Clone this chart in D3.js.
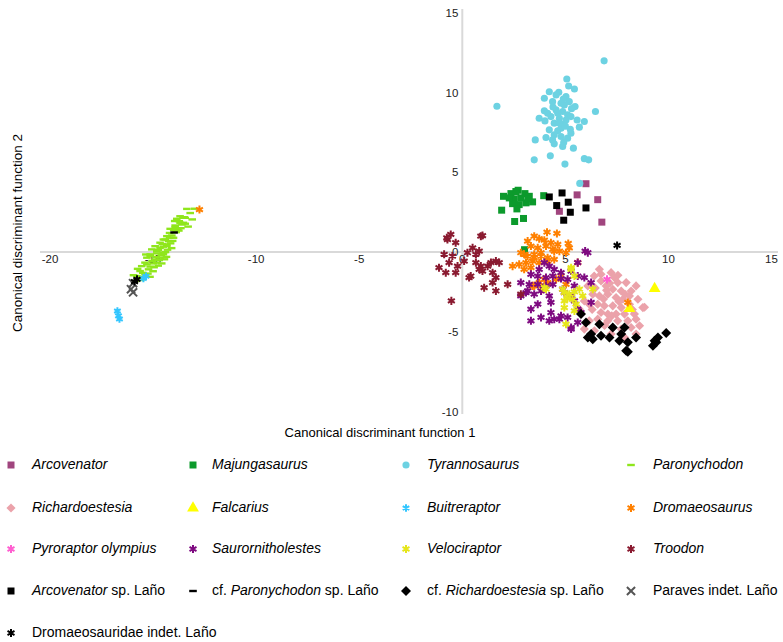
<!DOCTYPE html>
<html>
<head>
<meta charset="utf-8">
<script src="https://cdn.jsdelivr.net/npm/d3@7"></script>
<style>
  html, body { margin: 0; padding: 0; background: #ffffff; }
  svg { display: block; font-family: "Liberation Sans", Arial, sans-serif; }
</style>
</head>
<body>
<svg id="chart" width="783" height="642"></svg>
<script>
// ---------------- DATA ----------------
const xTicks = [-20, -15, -10, -5, 0, 5, 10, 15];
const yTicks = [-10, -5, 0, 5, 10, 15];
const xTitle = "Canonical discriminant function 1";
const yTitle = "Canonical discriminant function 2";

const arcovenator = [[6.0,4.29],[5.57,3.59],[6.57,3.29],[4.71,2.56],[6.77,1.88]];

const majungasaurus = [[2.0,3.5],[2.36,3.67],[2.71,3.88],[3.04,3.67],[3.25,3.5],[2.52,3.34],[2.84,3.4],
  [2.44,3.04],[2.76,2.98],[3.09,3.09],[3.41,3.15],[2.65,2.71],[1.91,2.63],[3.95,3.54],[2.97,2.11],
  [2.54,1.92],[2.28,3.4],[3.18,3.35],[2.6,3.8],[3.02,0.15]];

const tyrannosaurus = [[6.88,12.0],[1.68,9.15],[5.07,10.86],[5.16,10.42],[5.44,10.23],[4.22,10.06],[4.68,10.03],
  [3.98,9.65],[5.03,9.75],[4.38,9.44],[4.79,9.34],[5.19,9.44],[5.47,9.13],[6.46,8.82],[3.98,8.86],[4.55,8.92],
  [4.87,8.82],[5.11,8.61],[3.73,8.40],[4.30,8.50],[4.71,8.40],[5.27,8.50],[5.57,8.29],[5.92,8.19],[4.01,8.23],
  [4.46,8.09],[4.87,8.02],[5.68,7.84],[4.22,7.67],[4.63,7.61],[5.24,7.71],[3.54,7.04],[4.06,7.19],[4.38,7.04],
  [5.11,7.15],[4.46,6.79],[4.92,6.88],[4.87,6.63],[5.39,6.52],[4.27,6.04],[3.49,5.79],[4.98,5.52],[5.92,5.86],
  [6.13,5.79],[4.55,9.86],[4.95,9.23],[4.63,8.71],[4.14,8.71],[5.03,8.29],[4.79,7.77],[4.46,7.36],[5.27,7.46],
  [4.79,7.25],[5.70,4.31],[4.9,9.6],[4.4,9.1],[5.3,9.0],[4.7,8.1],[5.0,7.9]];

const paronychodon = [[-13.69,2.25],[-13.49,2.19],[-13.73,1.94],[-13.53,1.84],[-13.93,1.67],[-13.60,1.73],
  [-13.88,1.25],[-14.33,1.0],[-14.09,1.04],[-14.50,0.79],[-14.25,0.69],[-14.66,0.59],[-14.33,0.48],
  [-14.90,0.37],[-14.50,0.34],[-15.06,0.17],[-14.74,0.13],[-15.14,-0.14],[-14.82,-0.08],[-14.50,-0.14],
  [-15.30,-0.35],[-14.90,-0.46],[-15.39,-0.66],[-14.98,-0.71],[-15.55,-0.88],[-15.14,-0.91],
  [-13.44,2.15],[-13.36,2.71],[-12.98,2.72],[-13.85,2.09],[-13.55,2.15],[-13.69,1.84],[-13.44,1.78],
  [-14.17,1.46],[-13.93,1.56],[-14.41,0.79],[-14.01,0.9],[-14.66,0.27],[-14.33,0.38],[-14.82,0.06],
  [-14.50,-0.04],[-15.14,-0.25],[-14.66,-0.35],[-15.30,-0.77],[-14.82,-0.66],[-15.63,-1.19],[-15.22,-1.08],
  [-15.79,-1.5],[-15.39,-1.39],[-15.87,-1.81],[-14.58,-0.71],[-15.5,-1.3],[-15.05,-0.55],[-14.2,1.2],
  [-14.0,1.4],[-15.7,-1.6],[-13.8,1.45],
  [-13.2,2.45],[-13.1,2.05],[-13.3,1.6],[-13.75,1.35],[-14.15,0.55],[-14.05,0.7],[-14.3,0.15],[-14.4,0.0],
  [-14.6,-0.2],[-14.35,-0.3],[-14.7,-0.5],[-14.95,-0.95],[-14.75,-0.85],[-15.0,-1.2],[-15.25,-1.35],
  [-15.45,-1.55],[-15.6,-1.75],[-15.15,-1.55],[-14.85,-0.3],[-14.2,0.9],[-13.65,1.5],[-14.55,0.5],
  [-15.35,-0.15],[-15.75,-1.05],[-15.95,-1.45],[-14.1,0.25],[-13.95,1.95],[-14.45,-0.45]];

const richardoestesia = [[6.65,-1.08],[7.22,-1.29],[7.54,-1.91],[7.95,-1.91],[6.73,-1.81],[6.98,-2.12],
  [7.30,-2.33],[7.71,-2.44],[8.19,-2.44],[8.43,-2.12],[6.33,-2.64],[6.65,-2.75],[7.06,-2.64],[7.46,-2.85],
  [7.79,-2.96],[8.11,-2.75],[8.52,-2.96],[6.16,-3.27],[6.57,-3.27],[6.89,-3.37],[7.30,-3.37],[7.71,-3.48],
  [8.11,-3.27],[8.76,-3.48],[6.73,-3.79],[7.06,-3.89],[7.46,-3.89],[7.87,-3.89],[8.35,-3.89],[6.16,-4.31],
  [6.57,-4.21],[7.06,-4.31],[7.54,-4.31],[8.03,-4.31],[8.43,-4.21],[7.30,-4.73],[7.71,-4.83],[8.19,-4.73],
  [8.6,-4.62],[7.22,-5.14],[7.87,-5.35],[8.43,-5.14],[8.84,-3.46],[5.92,-3.06],[5.68,-3.58],[6.41,-4.94],
  [6.73,-1.39],[7.38,-1.6],[6.09,-2.12],[5.92,-4.83],[6.4,-1.5],[7.0,-2.4],[6.3,-3.6],[7.6,-3.1],
  [6.85,-2.95],[7.15,-1.95],[7.9,-2.65],[6.45,-2.25],[7.25,-4.0],[6.9,-4.6],[8.25,-3.6],[7.55,-1.45]];

const falcarius = [[9.33,-2.29],[8.11,-3.54]];

const buitreraptor = [[-15.47,-1.66],[-15.34,-1.52],[-16.73,-3.7],[-16.68,-4.0],[-16.63,-4.2]];

const dromaeosaurus = [[4.11,1.25],[4.59,1.17],[3.49,1.0],[3.73,0.84],[3.17,0.69],[3.98,0.75],[4.30,0.59],
  [4.63,0.48],[5.14,0.54],[3.33,0.38],[3.66,0.27],[4.06,0.38],[4.39,0.17],[4.71,0.06],[5.03,-0.04],
  [5.19,0.27],[2.84,-0.04],[3.17,-0.25],[3.49,-0.14],[3.82,-0.25],[4.14,-0.35],[4.46,-0.46],[2.44,-0.88],
  [2.76,-0.77],[3.09,-0.66],[3.41,-0.56],[3.73,-0.66],[3.0,-1.08],[3.33,-0.98],[3.49,-2.12],[3.98,-1.71],
  [4.55,-1.71],[4.79,-1.5],[3.90,-2.33],[5.03,-2.02],[3.0,-0.14],[3.49,-0.35],[3.82,-0.04],[4.14,-0.56],
  [4.46,0.06],[5.6,-0.66],[3.73,-1.91],[4.14,-1.91],[3.41,-2.12],[-12.75,2.67],[8.03,-3.16]];

const pyroraptor = [[7.02,-1.71]];

const saurornitholestes = [[5.96,0.06],[6.09,-0.04],[5.6,-0.66],[3.98,-0.66],[4.22,-0.88],[3.73,-1.08],
  [4.46,-1.08],[4.79,-1.29],[5.28,-1.19],[3.33,-1.39],[3.66,-1.5],[4.06,-1.6],[4.39,-1.5],[4.79,-1.66],
  [5.11,-1.71],[5.6,-1.5],[5.92,-1.6],[2.84,-1.91],[3.25,-2.02],[3.66,-2.02],[4.06,-2.12],[4.39,-2.02],
  [4.87,-2.33],[5.44,-2.12],[6.25,-1.91],[3.09,-2.54],[3.49,-2.64],[3.82,-2.44],[4.22,-2.75],[4.95,-2.54],
  [5.28,-2.75],[3.66,-3.27],[4.30,-3.16],[5.44,-3.06],[5.6,-3.58],[3.33,-4.31],[3.82,-4.1],[4.22,-4.31],
  [4.71,-4.21],[5.11,-4.1],[5.28,-4.73],[5.6,-4.41],[3.33,-3.58],[4.30,-3.79],[4.46,-4.21],[4.79,-4.0],
  [5.28,-4.83],[2.84,-2.75],[3.17,-2.44],[5.76,-3.79],[6.25,-3.16]];

const velociraptor = [[5.28,-1.08],[4.06,-2.33],[4.87,-2.33],[5.28,-0.98],[3.98,-2.23],[4.95,-2.54],
  [5.19,-2.64],[5.44,-2.5],[5.68,-2.33],[5.84,-2.75],[5.35,-2.96],[4.95,-3.06],[6.33,-2.33],[5.44,-3.69],
  [5.03,-4.52],[4.95,-3.48],[5.52,-3.27],[5.44,-1.5],[5.1,-2.9]];

const troodon = [[-0.72,0.79],[-0.56,1.11],[-0.32,0.59],[-0.88,-0.14],[-0.48,-0.25],[-0.64,-0.66],
  [-1.13,-0.98],[-0.8,-1.29],[-0.32,-1.29],[-0.23,-0.88],[0.09,-0.56],[0.25,-0.04],[0.5,0.27],[0.66,-0.14],
  [0.82,0.06],[0.66,-0.66],[0.9,-0.88],[0.98,-1.19],[0.9,1.0],[0.41,-1.5],[0.33,-1.6],[0.82,-1.08],
  [1.23,-0.88],[1.39,-0.66],[1.63,-0.56],[1.79,-0.66],[1.47,-1.29],[1.63,-1.6],[1.47,-1.91],[1.06,-2.23],
  [1.63,-2.44],[2.2,-2.02],[-0.53,-3.06],[2.84,-2.64],[-0.75,0.9],[0.98,1.04]];

const arcovenatorLano = [[4.22,3.46],[4.84,3.71],[4.58,2.92],[5.14,3.13],[5.24,2.5],[6.0,2.77],[4.92,2.0]];

const paronychodonLano = [[-13.98,1.23]];

const richardoestesiaLano = [[6.0,-4.41],[5.76,-3.89],[6.09,-5.35],[6.33,-5.46],[6.25,-5.14],[6.73,-5.25],
  [7.14,-5.35],[7.87,-4.73],[7.71,-5.14],[7.62,-5.56],[8.03,-5.66],[7.95,-6.19],[8.43,-5.35],[9.33,-5.56],
  [9.49,-5.35],[9.25,-5.87],[9.41,-5.66],[9.89,-5.08],[6.65,-4.52],[8.03,-6.25],[7.30,-4.73]];

const paravesLano = [[-15.97,-1.95],[-16.07,-2.33],[-15.97,-2.52]];

const dromaeosauridaeLano = [[7.51,0.42],[-15.78,-1.71],[-15.9,-1.85]];

// ---------------- SYMBOLS ----------------
const dash = { draw(ctx, size) { ctx.rect(-3.8, -1.2, 7.6, 2.4); } };
const diamond = { draw(ctx, size) {
  const r = Math.sqrt(size / 2);
  ctx.moveTo(0, -r); ctx.lineTo(r, 0); ctx.lineTo(0, r); ctx.lineTo(-r, 0); ctx.closePath();
} };

const series = [
  { name: [["Arcovenator", true]], data: arcovenator, type: d3.symbolSquare, size: 49, fill: "#a0457e", stroke: null, col: 0, row: 0 },
  { name: [["Majungasaurus", true]], data: majungasaurus, type: d3.symbolSquare, size: 49, fill: "#0c9a2c", stroke: null, col: 1, row: 0 },
  { name: [["Tyrannosaurus", true]], data: tyrannosaurus, type: d3.symbolCircle, size: 40, fill: "#6dd2e2", stroke: null, col: 2, row: 0 },
  { name: [["Paronychodon", true]], data: paronychodon, type: dash, size: 1, fill: "#8fe61c", stroke: null, col: 3, row: 0 },
  { name: [["Richardoestesia", true]], data: richardoestesia, type: diamond, size: 42, fill: "#eba2aa", stroke: null, col: 0, row: 1 },
  { name: [["Falcarius", true]], data: falcarius, type: d3.symbolTriangle, size: 60, fill: "#ffff00", stroke: null, col: 1, row: 1 },
  { name: [["Buitreraptor", true]], data: buitreraptor, type: d3.symbolAsterisk, size: 40, fill: "none", stroke: "#33c6ff", col: 2, row: 1 },
  { name: [["Dromaeosaurus", true]], data: dromaeosaurus, type: d3.symbolAsterisk, size: 45, fill: "none", stroke: "#ff8000", col: 3, row: 1 },
  { name: [["Pyroraptor olympius", true]], data: pyroraptor, type: d3.symbolAsterisk, size: 45, fill: "none", stroke: "#ff5fd0", col: 0, row: 2 },
  { name: [["Saurornitholestes", true]], data: saurornitholestes, type: d3.symbolAsterisk, size: 45, fill: "none", stroke: "#7e0a80", col: 1, row: 2 },
  { name: [["Velociraptor", true]], data: velociraptor, type: d3.symbolAsterisk, size: 45, fill: "none", stroke: "#e6e61a", col: 2, row: 2 },
  { name: [["Troodon", true]], data: troodon, type: d3.symbolAsterisk, size: 45, fill: "none", stroke: "#8a1a30", col: 3, row: 2 },
  { name: [["Arcovenator", true], [" sp. Laño", false]], data: arcovenatorLano, type: d3.symbolSquare, size: 49, fill: "#000000", stroke: null, col: 0, row: 3 },
  { name: [["cf. ", false], ["Paronychodon", true], [" sp. Laño", false]], data: paronychodonLano, type: dash, size: 1, fill: "#000000", stroke: null, col: 1, row: 3 },
  { name: [["cf. ", false], ["Richardoestesia", true], [" sp. Laño", false]], data: richardoestesiaLano, type: diamond, size: 50, fill: "#000000", stroke: null, col: 2, row: 3 },
  { name: [["Paraves indet. Laño", false]], data: paravesLano, type: d3.symbolTimes || d3.symbolX, size: 45, fill: "none", stroke: "#555555", col: 3, row: 3 },
  { name: [["Dromaeosauridae indet. Laño", false]], data: dromaeosauridaeLano, type: d3.symbolAsterisk, size: 45, fill: "none", stroke: "#000000", col: 0, row: 4 }
];

// ---------------- SCALES ----------------
const svg = d3.select("#chart");
const x = d3.scaleLinear().domain([-20, 15]).range([50, 771.5]);
const y = d3.scaleLinear().domain([-10, 15]).range([411.5, 13]);

// axis lines
svg.append("line").attr("x1", 40).attr("x2", 778).attr("y1", y(0)).attr("y2", y(0))
  .attr("stroke", "#d9d9d9").attr("stroke-width", 2);
svg.append("line").attr("x1", x(0)).attr("x2", x(0)).attr("y1", 9).attr("y2", 414)
  .attr("stroke", "#d9d9d9").attr("stroke-width", 2);

const fmt = v => String(v).replace("\u2212", "-");
svg.append("g").selectAll("text").data(xTicks).join("text")
  .attr("x", d => x(d)).attr("y", y(0) + 8)
  .attr("text-anchor", "middle").attr("dominant-baseline", "middle")
  .attr("font-size", 11.5).attr("fill", "#222").text(fmt);
svg.append("g").selectAll("text").data(yTicks).join("text")
  .attr("x", x(0) - 4).attr("y", d => y(d) + 1)
  .attr("text-anchor", "end").attr("dominant-baseline", "middle")
  .attr("font-size", 11.5).attr("fill", "#222").text(fmt);

// titles
svg.append("text").attr("x", 380).attr("y", 434).attr("text-anchor", "middle")
  .attr("dominant-baseline", "middle").attr("font-size", 13).attr("fill", "#000").text(xTitle);
svg.append("text").attr("transform", "translate(18,233) rotate(-90)").attr("text-anchor", "middle")
  .attr("dominant-baseline", "middle").attr("font-size", 13.5).attr("fill", "#000").text(yTitle);

// points
const plot = svg.append("g");
series.forEach(s => {
  const sym = d3.symbol().type(s.type).size(s.size);
  plot.append("g").selectAll("path").data(s.data).join("path")
    .attr("transform", d => `translate(${x(d[0])},${y(d[1])})`)
    .attr("d", sym)
    .attr("fill", s.fill)
    .attr("stroke", s.stroke || "none")
    .attr("stroke-width", s.stroke ? 2 : 0);
});

// legend
const colSym = [11, 193, 406, 631];
const colText = [32, 212, 427, 653];
const rowY = [465, 508, 549, 591, 633];
const leg = svg.append("g");
series.forEach(s => {
  const sym = d3.symbol().type(s.type).size(s.size);
  leg.append("path")
    .attr("transform", `translate(${colSym[s.col]},${rowY[s.row]})`)
    .attr("d", sym)
    .attr("fill", s.fill)
    .attr("stroke", s.stroke || "none")
    .attr("stroke-width", s.stroke ? 2 : 0);
  const t = leg.append("text").attr("x", colText[s.col]).attr("y", rowY[s.row])
    .attr("dominant-baseline", "middle").attr("font-size", 14).attr("fill", "#000");
  s.name.forEach(([txt, it]) => {
    t.append("tspan").attr("font-style", it ? "italic" : "normal").text(txt);
  });
});
</script>
</body>
</html>
